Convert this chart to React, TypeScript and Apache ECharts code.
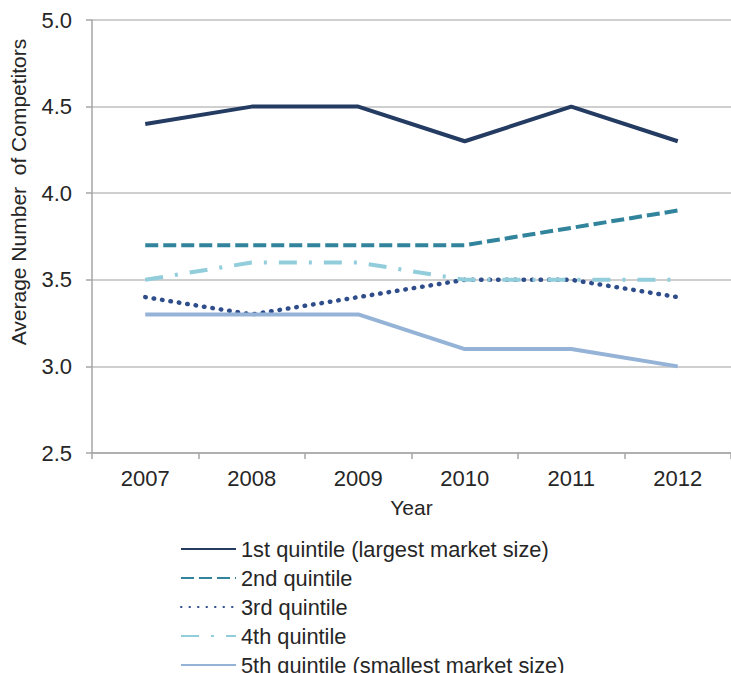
import React, { useEffect, useRef } from "react";
import * as echarts from "echarts";

const years = ["2007", "2008", "2009", "2010", "2011", "2012"];
const q1 = [4.4, 4.5, 4.5, 4.3, 4.5, 4.3];
const q2 = [3.7, 3.7, 3.7, 3.7, 3.8, 3.9];
const q3 = [3.4, 3.3, 3.4, 3.5, 3.5, 3.4];
const q4 = [3.5, 3.6, 3.6, 3.5, 3.5, 3.5];
const q5 = [3.3, 3.3, 3.3, 3.1, 3.1, 3.0];
const seriesNames = [
  "1st quintile (largest market size)",
  "2nd quintile",
  "3rd quintile",
  "4th quintile",
  "5th quintile (smallest market size)",
];

export default function App() {
  const ref = useRef<HTMLDivElement>(null);
  useEffect(() => {
    if (!ref.current) return;
    const chart = echarts.init(ref.current, null, { renderer: "svg" });
    const font = "Liberation Sans, Arial, sans-serif";
    const mk = (name: string, data: number[], color: string, type: any, extra: any = {}) => ({
      name,
      type: "line",
      data,
      symbol: "none",
      lineStyle: { color, width: 4, type, ...extra },
      itemStyle: { color },
    });
    chart.setOption({
      animation: false,
      backgroundColor: "#ffffff",
      textStyle: { fontFamily: font },
      grid: { left: 92, right: -8, top: 20, bottom: 220 },
      xAxis: {
        type: "category",
        data: years,
        boundaryGap: true,
        name: "Year",
        nameLocation: "middle",
        nameGap: 44,
        nameTextStyle: { fontSize: 21, color: "#262626", fontFamily: font },
        axisLine: { lineStyle: { color: "#a6a6a6", width: 1.5 } },
        axisTick: { show: true, length: 6, lineStyle: { color: "#a6a6a6", width: 1.5 } },
        axisLabel: { fontSize: 22, color: "#262626", margin: 14, fontFamily: font },
      },
      yAxis: {
        type: "value",
        min: 2.5,
        max: 5.0,
        interval: 0.5,
        axisLine: { show: true, lineStyle: { color: "#a6a6a6", width: 1.5 } },
        axisTick: { show: true, length: 6, lineStyle: { color: "#a6a6a6", width: 1.5 } },
        axisLabel: {
          fontSize: 22,
          color: "#262626",
          margin: 20,
          fontFamily: font,
          formatter: (v: number) => v.toFixed(1),
        },
        splitLine: { lineStyle: { color: "#bfbfbf", width: 1.5 } },
      },
      legend: {
        orient: "vertical",
        left: 180,
        top: 538,
        padding: 0,
        height: 200,
        itemWidth: 55,
        itemHeight: 14,
        itemGap: 7,
        itemStyle: { opacity: 0 },
        textStyle: { fontSize: 21.8, lineHeight: 22, color: "#262626", fontFamily: font },
        data: seriesNames,
      },
      graphic: [
        {
          type: "text",
          x: 18,
          y: 192,
          rotation: Math.PI / 2,
          style: {
            text: "Average Number  of Competitors",
            fontSize: 21,
            fill: "#262626",
            fontFamily: font,
            align: "center",
            verticalAlign: "middle",
          },
        },
      ],
      series: [
        mk(seriesNames[0], q1, "#243b62", "solid"),
        mk(seriesNames[1], q2, "#31849b", [13, 5]),
        mk(seriesNames[2], q3, "#2e4d8a", [0.5, 8], { cap: "round", width: 4.5 }),
        mk(seriesNames[3], q4, "#92cddc", [18, 12, 3, 12]),
        mk(seriesNames[4], q5, "#95b3d7", "solid"),
      ],
    });
    return () => chart.dispose();
  }, []);
  return (
    <div
      ref={ref}
      style={{ position: "fixed", left: 0, top: 0, width: 731, height: 673 }}
    />
  );
}
